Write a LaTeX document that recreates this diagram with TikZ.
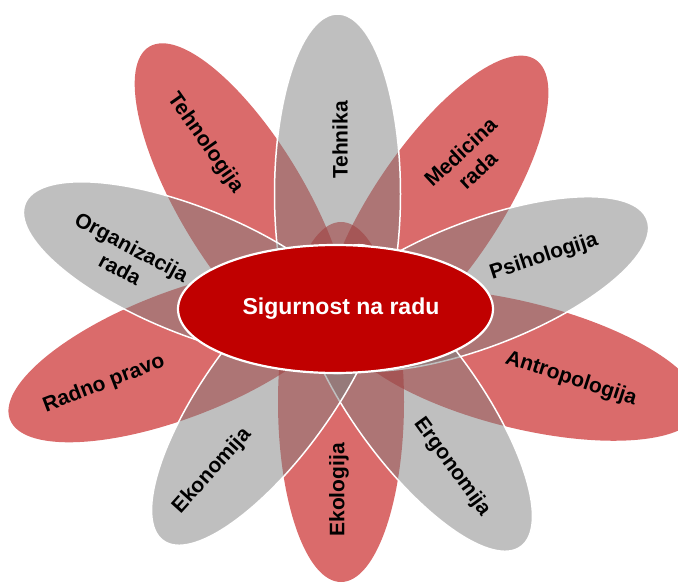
\documentclass[tikz,border=0pt]{standalone}
\usepackage{fontspec}
\setmainfont{Liberation Sans}
\usetikzlibrary{shapes.geometric}
\definecolor{petalred}{HTML}{C00000}
\definecolor{petalgray}{HTML}{808080}
\definecolor{coreRed}{HTML}{C00000}
\begin{document}
\begin{tikzpicture}[x=1pt,y=1pt,
  petal/.style={ellipse, minimum width=360pt, minimum height=126pt, inner sep=0pt, outer sep=0pt},
  redpetal/.style={petal, fill=petalred, fill opacity=0.58},
  graypetal/.style={petal, fill=petalgray, fill opacity=0.5, draw=white, draw opacity=1, line width=1.5pt},
  core/.style={ellipse, minimum width=315pt, minimum height=128pt, inner sep=0pt, fill=coreRed, draw=white, line width=2.2pt},
  lbl/.style={font=\bfseries\fontsize{21}{25}\selectfont, text=black, align=center, inner sep=0pt},
  corelbl/.style={font=\bfseries\fontsize{23}{26}\selectfont, text=white, inner sep=0pt}
]
\useasboundingbox (0,0) rectangle (678,-583);
\clip (0,0) rectangle (678,-583);
% red petals
\node[redpetal, rotate=56]   (pMed)  at (435,-209) {};
\node[redpetal, rotate=121]  (pTehn) at (242,-201) {};
\node[redpetal, rotate=-14, minimum width=370pt]  (pAntr) at (520,-365) {};
\node[redpetal, rotate=-90]  (pEkol) at (341,-402) {};
\node[redpetal, rotate=201]  (pRad)  at (178,-355) {};
% gray petals
\node[graypetal, rotate=90]   (pTeh)  at (337.5,-194) {};
\node[graypetal, rotate=21]   (pPsi)  at (479,-284) {};
\node[graypetal, rotate=-54]  (pErg)  at (415,-401) {};
\node[graypetal, rotate=-126] (pEkon) at (269,-395) {};
\node[graypetal, rotate=158]  (pOrg)  at (192,-271) {};
% centre
\node[core] (core) at (335.5,-309) {};
\node[corelbl] (coreTxt) at (341,-309) {Sigurnost na radu};
% labels
\node[lbl, rotate=90]  (tTeh)  at (340,-140) {Tehnika};
\node[lbl, rotate=43]  (tMed)  at (469,-161) {Medicina\\rada};
\node[lbl, rotate=-55] (tTehn) at (205,-143) {Tehnologija};
\node[lbl, rotate=-28] (tOrg)  at (126,-258) {Organizacija\\rada};
\node[lbl, rotate=18]  (tPsi)  at (544,-257) {Psihologija};
\node[lbl, rotate=-18] (tAntr) at (571,-379) {Antropologija};
\node[lbl, rotate=21]  (tRad)  at (104,-384) {Radno pravo};
\node[lbl, rotate=48]  (tEkon) at (212,-471) {Ekonomija};
\node[lbl, rotate=90]  (tEkol) at (339,-490) {Ekologija};
\node[lbl, rotate=-54] (tErg)  at (452,-467) {Ergonomija};
\end{tikzpicture}
\end{document}
